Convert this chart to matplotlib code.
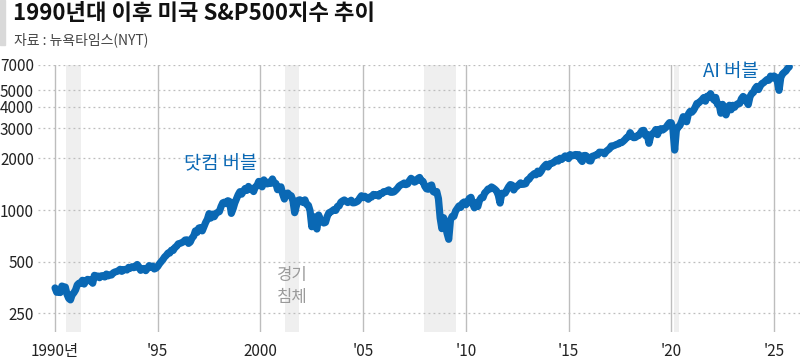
import numpy as np
import matplotlib
matplotlib.use("Agg")
import matplotlib.pyplot as plt
from matplotlib.patches import Rectangle

plt.rcParams['font.family'] = ['Noto Sans CJK KR', 'DejaVu Sans']

# S&P500 monthly values (Jan 1990 - Oct 2025)
sp1990 = [352, 332, 339, 331, 361, 358, 356, 323, 306, 300, 322, 330]
sp1991 = [343, 367, 375, 375, 390, 371, 387, 395, 388, 392, 375, 417]
sp1992 = [409, 413, 404, 414, 415, 408, 424, 414, 418, 419, 431, 436]
sp1993 = [439, 443, 452, 440, 450, 451, 448, 464, 459, 468, 462, 466]
sp1994 = [482, 467, 446, 451, 457, 444, 458, 475, 463, 472, 454, 459]
sp1995 = [470, 487, 501, 515, 533, 545, 562, 562, 584, 582, 605, 616]
sp1996 = [636, 640, 646, 654, 669, 671, 640, 652, 687, 705, 757, 741]
sp1997 = [786, 791, 757, 801, 848, 885, 954, 899, 947, 915, 955, 970]
sp1998 = [980, 1049, 1102, 1112, 1091, 1134, 1121, 957, 1017, 1099, 1164, 1229]
sp1999 = [1280, 1238, 1286, 1335, 1302, 1373, 1329, 1320, 1283, 1363, 1389, 1469]
sp2000 = [1394, 1366, 1499, 1452, 1421, 1455, 1431, 1518, 1437, 1429, 1315, 1320]
sp2001 = [1366, 1240, 1160, 1249, 1256, 1224, 1211, 1134, 966, 1060, 1139, 1148]
sp2002 = [1130, 1107, 1147, 1077, 1067, 990, 800, 916, 815, 776, 936, 880]
sp2003 = [856, 841, 848, 917, 964, 975, 990, 1008, 996, 1051, 1058, 1112]
sp2004 = [1131, 1145, 1126, 1107, 1121, 1141, 1102, 1104, 1115, 1130, 1174, 1212]
sp2005 = [1181, 1204, 1181, 1157, 1192, 1191, 1234, 1220, 1229, 1207, 1249, 1248]
sp2006 = [1280, 1281, 1295, 1311, 1270, 1270, 1277, 1304, 1336, 1378, 1401, 1418]
sp2007 = [1438, 1407, 1421, 1482, 1531, 1503, 1455, 1474, 1527, 1549, 1481, 1468]
sp2008 = [1379, 1331, 1323, 1386, 1400, 1280, 1267, 1283, 1166, 900, 780, 903]
sp2009 = [826, 735, 676, 873, 919, 919, 987, 1021, 1057, 1036, 1096, 1115]
sp2010 = [1074, 1104, 1169, 1187, 1089, 1031, 1102, 1049, 1141, 1183, 1181, 1258]
sp2011 = [1286, 1327, 1326, 1364, 1345, 1321, 1292, 1219, 1099, 1253, 1247, 1258]
sp2012 = [1312, 1366, 1408, 1398, 1310, 1362, 1379, 1407, 1441, 1412, 1416, 1426]
sp2013 = [1498, 1515, 1569, 1598, 1631, 1606, 1686, 1633, 1682, 1757, 1806, 1848]
sp2014 = [1783, 1859, 1872, 1884, 1924, 1960, 1931, 2003, 1972, 2018, 2068, 2059]
sp2015 = [1995, 2105, 2068, 2086, 2107, 2063, 2104, 1972, 1920, 2079, 2080, 2044]
sp2016 = [1940, 1932, 2060, 2065, 2097, 2099, 2174, 2171, 2168, 2126, 2199, 2239]
sp2017 = [2279, 2364, 2363, 2384, 2412, 2423, 2470, 2472, 2519, 2575, 2648, 2674]
sp2018 = [2824, 2714, 2641, 2648, 2705, 2718, 2816, 2902, 2914, 2712, 2760, 2450]
sp2019 = [2704, 2784, 2834, 2946, 2752, 2942, 2980, 2926, 2977, 3038, 3141, 3231]
sp2020 = [3226, 2954, 2237, 2912, 3044, 3100, 3271, 3500, 3363, 3270, 3622, 3756]
sp2021 = [3714, 3811, 3973, 4181, 4204, 4298, 4395, 4523, 4308, 4605, 4567, 4766]
sp2022 = [4516, 4374, 4530, 4132, 4132, 3667, 4130, 3955, 3586, 3872, 4080, 3840]
sp2023 = [4077, 3970, 4109, 4169, 4180, 4450, 4589, 4508, 4288, 4117, 4568, 4770]
sp2024 = [4846, 5096, 5254, 5036, 5278, 5460, 5522, 5648, 5762, 5705, 6032, 5882]
sp2025 = [6041, 5955, 5612, 4982, 5912, 6205, 6339, 6460, 6688, 6840]

values = (sp1990 + sp1991 + sp1992 + sp1993 + sp1994 + sp1995 + sp1996 + sp1997
          + sp1998 + sp1999 + sp2000 + sp2001 + sp2002 + sp2003 + sp2004 + sp2005
          + sp2006 + sp2007 + sp2008 + sp2009 + sp2010 + sp2011 + sp2012 + sp2013
          + sp2014 + sp2015 + sp2016 + sp2017 + sp2018 + sp2019 + sp2020 + sp2021
          + sp2022 + sp2023 + sp2024 + sp2025)
years = 1990 + np.arange(len(values)) / 12

# recessions (start, end) in decimal years
recessions = [(1990.55, 1991.25), (2001.2, 2001.9), (2007.95, 2009.5), (2020.15, 2020.4)]

y_ticks = [250, 500, 1000, 2000, 3000, 4000, 5000, 7000]
x_ticks = [1990, 1995, 2000, 2005, 2010, 2015, 2020, 2025]
x_labels = ["1990년", "'95", "2000", "'05", "'10", "'15", "'20", "'25"]

blue = "#0a68b4"
grid_gray = "#bdbdbd"

fig = plt.figure(figsize=(8, 3.62), dpi=100)
ax = fig.add_axes([38 / 800, 1 - 332 / 362, 762 / 800, (332 - 65) / 362])
ax.set_yscale("log")
ax.set_xlim(1989.17, 2026.27)
ax.set_ylim(195, 7000)

for s, e in recessions:
    ax.axvspan(s, e, color="#efefef", lw=0, zorder=0)

for t in y_ticks:
    ax.axhline(t, color=grid_gray, lw=0.9, ls=(0, (1.5, 2.5)), zorder=1)
for t in x_ticks:
    ax.axvline(t, color=grid_gray, lw=1, zorder=1)

ax.plot(years, values, color=blue, lw=5.2, solid_joinstyle="round",
        solid_capstyle="round", zorder=3)

for sp in ax.spines.values():
    sp.set_visible(False)
ax.set_yticks(y_ticks)
ax.set_yticklabels([str(t) for t in y_ticks])
ax.yaxis.set_minor_locator(matplotlib.ticker.NullLocator())
ax.set_xticks(x_ticks)
ax.set_xticklabels(x_labels)
ax.tick_params(axis="both", length=0, labelsize=11, colors="#222222")
ax.tick_params(axis="y", pad=3)
ax.tick_params(axis="x", pad=8)

ax.text(1998.05, 1870, "닷컴 버블", color=blue, fontsize=13.5, ha="center", va="center")
ax.text(2022.9, 6450, "AI 버블", color=blue, fontsize=13.5, ha="center", va="center")
ax.text(2001.55, 360, "경기\n침체", color="#9a9a9a", fontsize=12, ha="center",
        va="center", linespacing=1.35)

# header
fig.patches.append(Rectangle((0, 1 - 45 / 362), 5 / 800, 45 / 362,
                             transform=fig.transFigure, color="#d9d9d9"))
fig.text(13 / 800, 1 - 14 / 362, "1990년대 이후 미국 S&P500지수 추이",
         fontsize=16, fontweight="heavy", color="#111111", va="center")
fig.text(14 / 800, 1 - 40 / 362, "자료 : 뉴욕타임스(NYT)", fontsize=10,
         color="#444444", va="center")

fig.savefig("out.png", dpi=100)
